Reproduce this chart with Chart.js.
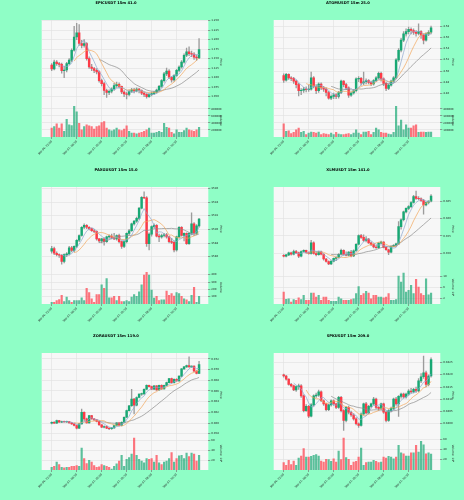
<!DOCTYPE html>
<html>
<head>
<meta charset="utf-8">
<script src="https://cdn.jsdelivr.net/npm/chart.js@4.4.1/dist/chart.umd.min.js"></script>
<style>
  body { margin: 0; background: #8ffec6; width: 464px; height: 500px; overflow: hidden; position: relative; }
</style>
</head>
<body>
<script>
// x axis tick labels, one every 10 candles (15m bars)
const timeTicks = ["Sep 06, 22:00", "Sep 07, 00:30", "Sep 07, 03:00", "Sep 07, 05:30", "Sep 07, 08:00", "Sep 07, 10:30"];

// EPICUSDT
const epicOpen = [1.133,1.123,1.141,1.137,1.135,1.118,1.120,1.137,1.146,1.172,1.207,1.218,1.190,1.185,1.190,1.150,1.128,1.124,1.119,1.115,1.092,1.084,1.066,1.061,1.064,1.070,1.079,1.082,1.077,1.062,1.057,1.056,1.064,1.068,1.065,1.070,1.066,1.059,1.056,1.050,1.055,1.058,1.061,1.067,1.077,1.092,1.110,1.117,1.101,1.094,1.106,1.119,1.128,1.141,1.159,1.168,1.163,1.162,1.154,1.152];
const epicHigh = [1.137,1.146,1.145,1.140,1.138,1.130,1.140,1.150,1.176,1.235,1.243,1.240,1.198,1.200,1.192,1.155,1.135,1.127,1.124,1.118,1.096,1.088,1.070,1.068,1.073,1.085,1.088,1.086,1.078,1.066,1.062,1.068,1.072,1.072,1.073,1.072,1.068,1.062,1.058,1.058,1.062,1.064,1.070,1.080,1.095,1.114,1.125,1.121,1.103,1.108,1.122,1.131,1.145,1.163,1.178,1.181,1.170,1.166,1.160,1.203];
const epicLow = [1.118,1.120,1.132,1.128,1.112,1.100,1.115,1.134,1.142,1.170,1.200,1.185,1.178,1.180,1.146,1.124,1.118,1.113,1.110,1.088,1.078,1.055,1.048,1.055,1.060,1.066,1.074,1.072,1.058,1.050,1.044,1.052,1.061,1.060,1.062,1.060,1.055,1.050,1.046,1.048,1.052,1.055,1.059,1.064,1.074,1.088,1.105,1.097,1.088,1.090,1.103,1.115,1.125,1.138,1.155,1.158,1.155,1.148,1.145,1.150];
const epicClose = [1.123,1.141,1.137,1.135,1.118,1.120,1.137,1.146,1.172,1.207,1.218,1.190,1.185,1.190,1.150,1.128,1.124,1.119,1.115,1.092,1.084,1.066,1.061,1.064,1.070,1.079,1.082,1.077,1.062,1.057,1.056,1.064,1.068,1.065,1.070,1.066,1.059,1.056,1.050,1.055,1.058,1.061,1.067,1.077,1.092,1.110,1.117,1.101,1.094,1.106,1.119,1.128,1.141,1.159,1.168,1.163,1.162,1.154,1.152,1.174];
const epicVolume = [251000,298000,372000,251000,372000,158000,502000,344000,326000,874000,716000,391000,205000,298000,344000,316000,298000,223000,298000,316000,409000,437000,251000,205000,177000,205000,251000,205000,186000,223000,316000,158000,112000,112000,93000,112000,130000,158000,205000,251000,112000,112000,130000,158000,130000,391000,279000,251000,130000,93000,205000,130000,130000,186000,251000,205000,186000,158000,205000,279000];
const epicPriceTicks = [1.050,1.075,1.100,1.125,1.150,1.175,1.200,1.225,1.250];
const epicVolumeTicks = [200000,400000,600000,800000];

// ATOMUSDT
const atomOpen = [4.492,4.484,4.494,4.488,4.487,4.482,4.476,4.465,4.466,4.468,4.467,4.468,4.488,4.473,4.465,4.477,4.470,4.468,4.462,4.452,4.455,4.458,4.455,4.462,4.482,4.476,4.470,4.457,4.461,4.465,4.486,4.487,4.479,4.481,4.483,4.480,4.477,4.483,4.488,4.496,4.486,4.478,4.469,4.475,4.482,4.488,4.520,4.537,4.555,4.566,4.570,4.574,4.572,4.569,4.567,4.570,4.564,4.555,4.566,4.569];
const atomHigh = [4.495,4.496,4.495,4.490,4.489,4.484,4.478,4.469,4.471,4.472,4.475,4.498,4.490,4.476,4.479,4.479,4.473,4.470,4.464,4.458,4.461,4.460,4.464,4.484,4.483,4.478,4.472,4.463,4.467,4.488,4.490,4.489,4.498,4.486,4.485,4.482,4.485,4.490,4.498,4.498,4.488,4.480,4.477,4.484,4.490,4.522,4.540,4.558,4.570,4.575,4.578,4.577,4.575,4.572,4.584,4.572,4.566,4.568,4.572,4.580];
const atomLow = [4.480,4.482,4.485,4.483,4.478,4.470,4.456,4.458,4.462,4.463,4.464,4.466,4.470,4.460,4.462,4.467,4.464,4.456,4.450,4.449,4.451,4.451,4.452,4.460,4.472,4.467,4.453,4.455,4.459,4.463,4.481,4.475,4.476,4.477,4.477,4.474,4.475,4.481,4.486,4.482,4.474,4.465,4.467,4.473,4.480,4.486,4.517,4.534,4.552,4.562,4.566,4.566,4.565,4.562,4.564,4.558,4.548,4.553,4.563,4.566];
const atomClose = [4.484,4.494,4.488,4.487,4.482,4.476,4.465,4.466,4.468,4.467,4.468,4.488,4.473,4.465,4.477,4.470,4.468,4.462,4.452,4.455,4.458,4.455,4.462,4.482,4.476,4.470,4.457,4.461,4.465,4.486,4.487,4.479,4.481,4.483,4.480,4.477,4.483,4.488,4.496,4.486,4.478,4.469,4.475,4.482,4.488,4.520,4.537,4.555,4.566,4.570,4.574,4.572,4.569,4.567,4.570,4.564,4.555,4.566,4.569,4.577];
const atomVolume = [186000,79000,88000,47000,65000,102000,126000,65000,79000,33000,56000,70000,65000,56000,70000,33000,47000,42000,33000,56000,33000,65000,42000,33000,33000,42000,47000,33000,56000,102000,56000,33000,70000,70000,79000,33000,65000,126000,102000,65000,56000,56000,42000,33000,65000,437000,158000,242000,102000,172000,126000,126000,158000,172000,65000,70000,70000,65000,70000,70000];
const atomPriceTicks = [4.46,4.48,4.50,4.52,4.54,4.56,4.58];
const atomVolumeTicks = [100000,200000,300000,400000];

// PAXGUSDT
const paxgOpen = [3586.8,3587.2,3586.5,3586.3,3586.2,3585.3,3586.3,3586.4,3587.3,3586.9,3587.5,3588.4,3589.1,3590.3,3590.6,3590.3,3590.1,3589.8,3589.7,3588.6,3588.3,3588.6,3588.2,3588.9,3589.0,3588.8,3588.6,3589.1,3588.2,3587.5,3588.2,3589.4,3589.8,3590.8,3591.2,3591.6,3593.1,3594.7,3594.6,3587.9,3589.3,3590.4,3590.6,3589.0,3588.9,3589.1,3589.2,3588.9,3588.2,3588.1,3587.0,3588.9,3590.3,3589.1,3589.4,3587.9,3589.4,3590.8,3589.4,3590.5];
const paxgHigh = [3587.5,3587.4,3586.7,3586.4,3586.3,3586.4,3586.6,3587.5,3587.5,3587.6,3588.5,3589.2,3590.4,3590.8,3590.7,3590.4,3590.2,3590.0,3589.8,3588.7,3588.7,3588.8,3589.0,3589.2,3589.3,3589.4,3589.2,3589.3,3588.3,3588.3,3589.5,3590.0,3590.9,3591.3,3591.8,3593.2,3594.8,3595.5,3594.8,3589.5,3590.5,3590.8,3590.7,3589.3,3589.3,3589.4,3589.4,3589.0,3588.7,3588.3,3589.0,3590.4,3590.4,3589.5,3589.5,3589.5,3592.4,3591.0,3590.7,3591.6];
const paxgLow = [3586.5,3586.3,3586.1,3585.9,3584.9,3585.1,3586.0,3586.2,3586.7,3586.7,3587.3,3588.2,3589.0,3590.1,3590.1,3589.9,3589.7,3589.5,3588.4,3588.1,3588.0,3587.7,3588.1,3588.7,3588.6,3588.5,3588.4,3588.0,3587.2,3587.3,3588.0,3589.2,3589.7,3590.6,3591.0,3591.4,3593.0,3594.5,3587.5,3587.0,3589.0,3590.2,3588.9,3588.2,3588.7,3588.9,3588.7,3588.0,3587.9,3586.7,3586.8,3588.7,3589.0,3588.3,3587.8,3587.8,3589.2,3589.2,3589.2,3590.3];
const paxgClose = [3587.2,3586.5,3586.3,3586.2,3585.3,3586.3,3586.4,3587.3,3586.9,3587.5,3588.4,3589.1,3590.3,3590.6,3590.3,3590.1,3589.8,3589.7,3588.6,3588.3,3588.6,3588.2,3588.9,3589.0,3588.8,3588.6,3589.1,3588.2,3587.5,3588.2,3589.4,3589.8,3590.8,3591.2,3591.6,3593.1,3594.7,3594.6,3587.9,3589.3,3590.4,3590.6,3589.0,3588.9,3589.1,3589.2,3588.9,3588.2,3588.1,3587.0,3588.9,3590.3,3589.1,3589.4,3587.9,3589.4,3590.8,3589.4,3590.5,3591.5];
const paxgVolume = [24,24,48,62,119,33,95,48,24,48,48,48,86,48,214,157,71,24,129,129,262,214,348,86,86,105,48,105,33,33,48,33,95,129,105,167,262,395,433,395,190,81,105,48,57,57,176,119,143,110,157,143,105,71,57,33,119,229,24,105];
const paxgPriceTicks = [3586,3588,3590,3592,3594,3596];
const paxgVolumeTicks = [100,200,300,400];

// XLMUSDT
const xlmOpen = [0.3494,0.3491,0.3495,0.3501,0.3497,0.3505,0.3501,0.3491,0.3505,0.3508,0.3502,0.3499,0.3530,0.3499,0.3496,0.3504,0.3497,0.3483,0.3476,0.3469,0.3477,0.3485,0.3488,0.3497,0.3508,0.3497,0.3494,0.3503,0.3492,0.3507,0.3526,0.3551,0.3546,0.3537,0.3541,0.3530,0.3525,0.3518,0.3516,0.3529,0.3532,0.3517,0.3510,0.3503,0.3520,0.3523,0.3527,0.3577,0.3597,0.3620,0.3630,0.3635,0.3647,0.3664,0.3659,0.3658,0.3653,0.3640,0.3647,0.3651];
const xlmHigh = [0.3496,0.3497,0.3503,0.3503,0.3509,0.3508,0.3503,0.3507,0.3510,0.3509,0.3504,0.3537,0.3533,0.3505,0.3506,0.3506,0.3499,0.3485,0.3478,0.3478,0.3486,0.3490,0.3499,0.3512,0.3510,0.3504,0.3505,0.3508,0.3510,0.3528,0.3553,0.3555,0.3553,0.3548,0.3543,0.3533,0.3527,0.3523,0.3531,0.3535,0.3534,0.3519,0.3512,0.3522,0.3525,0.3529,0.3592,0.3600,0.3622,0.3632,0.3638,0.3650,0.3668,0.3680,0.3664,0.3661,0.3656,0.3649,0.3652,0.3670];
const xlmLow = [0.3489,0.3489,0.3493,0.3494,0.3495,0.3499,0.3487,0.3489,0.3503,0.3500,0.3497,0.3497,0.3497,0.3492,0.3494,0.3495,0.3480,0.3474,0.3467,0.3467,0.3475,0.3478,0.3486,0.3495,0.3494,0.3492,0.3492,0.3489,0.3490,0.3505,0.3524,0.3543,0.3534,0.3533,0.3528,0.3522,0.3515,0.3514,0.3514,0.3527,0.3515,0.3508,0.3496,0.3501,0.3518,0.3519,0.3525,0.3570,0.3594,0.3617,0.3626,0.3632,0.3645,0.3656,0.3655,0.3650,0.3613,0.3637,0.3643,0.3649];
const xlmClose = [0.3491,0.3495,0.3501,0.3497,0.3505,0.3501,0.3491,0.3505,0.3508,0.3502,0.3499,0.3530,0.3499,0.3496,0.3504,0.3497,0.3483,0.3476,0.3469,0.3477,0.3485,0.3488,0.3497,0.3508,0.3497,0.3494,0.3503,0.3492,0.3507,0.3526,0.3551,0.3546,0.3537,0.3541,0.3530,0.3525,0.3518,0.3516,0.3529,0.3532,0.3517,0.3510,0.3503,0.3520,0.3523,0.3527,0.3577,0.3597,0.3620,0.3630,0.3635,0.3647,0.3664,0.3659,0.3658,0.3653,0.3640,0.3647,0.3651,0.3666];
const xlmVolume = [4400000,1700000,1900000,700000,1600000,1300000,2300000,1600000,3200000,1300000,1300000,4000000,4000000,2500000,3200000,1300000,2500000,2500000,1300000,1000000,1000000,1000000,2500000,1900000,1300000,1300000,1300000,1600000,1900000,3800000,6400000,3200000,3800000,4600000,4000000,1900000,3200000,3200000,2500000,2500000,2300000,2500000,3800000,1300000,1300000,1600000,10200000,8000000,11300000,4400000,5000000,6800000,3800000,9000000,6200000,3800000,3200000,9200000,3400000,4000000];
const xlmPriceTicks = [0.350,0.355,0.360,0.365];
const xlmVolumeTicks = [2000000,4000000,6000000,8000000,10000000,12000000];

// ZORAUSDT
const zoraOpen = [0.05997,0.06015,0.05997,0.06046,0.06015,0.06028,0.06022,0.06028,0.06003,0.05985,0.05954,0.05904,0.05985,0.06200,0.06077,0.06003,0.06139,0.06077,0.06058,0.06028,0.05966,0.05923,0.05935,0.05904,0.05892,0.05910,0.05954,0.06003,0.05954,0.06015,0.06108,0.06231,0.06324,0.06447,0.06336,0.06478,0.06540,0.06546,0.06632,0.06706,0.06682,0.06632,0.06694,0.06620,0.06706,0.06640,0.06706,0.06756,0.06830,0.06756,0.06817,0.06787,0.06879,0.07015,0.07052,0.07077,0.07052,0.07064,0.06972,0.06929];
const zoraHigh = [0.06020,0.06025,0.06055,0.06050,0.06035,0.06035,0.06035,0.06032,0.06010,0.05990,0.05960,0.05995,0.06262,0.06210,0.06090,0.06145,0.06145,0.06085,0.06065,0.06035,0.05972,0.05945,0.05945,0.05910,0.05915,0.05960,0.06010,0.06010,0.06020,0.06115,0.06240,0.06330,0.06632,0.06460,0.06490,0.06545,0.06560,0.06640,0.06715,0.06712,0.06690,0.06700,0.06700,0.06712,0.06715,0.06712,0.06765,0.06835,0.06840,0.06825,0.06830,0.06885,0.07020,0.07060,0.07085,0.07237,0.07070,0.07070,0.06980,0.07157];
const zoraLow = [0.05985,0.05990,0.05990,0.06010,0.06005,0.06015,0.06010,0.05995,0.05975,0.05945,0.05890,0.05895,0.05980,0.06040,0.05995,0.05995,0.06070,0.06050,0.06020,0.05960,0.05915,0.05910,0.05895,0.05875,0.05880,0.05900,0.05945,0.05945,0.05945,0.06010,0.06100,0.06220,0.06310,0.06170,0.06320,0.06470,0.06515,0.06535,0.06625,0.06670,0.06625,0.06625,0.06610,0.06612,0.06630,0.06632,0.06700,0.06750,0.06745,0.06745,0.06780,0.06780,0.06870,0.07005,0.07040,0.07045,0.07040,0.06965,0.06920,0.06925];
const zoraClose = [0.06015,0.05997,0.06046,0.06015,0.06028,0.06022,0.06028,0.06003,0.05985,0.05954,0.05904,0.05985,0.06200,0.06077,0.06003,0.06139,0.06077,0.06058,0.06028,0.05966,0.05923,0.05935,0.05904,0.05892,0.05910,0.05954,0.06003,0.05954,0.06015,0.06108,0.06231,0.06324,0.06447,0.06336,0.06478,0.06540,0.06546,0.06632,0.06706,0.06682,0.06632,0.06694,0.06620,0.06706,0.06640,0.06706,0.06756,0.06830,0.06756,0.06817,0.06787,0.06879,0.07015,0.07052,0.07077,0.07052,0.07064,0.06972,0.06929,0.07095];
const zoraVolume = [5600000,7700000,16100000,11200000,5600000,4200000,5600000,5600000,7700000,7700000,9100000,7700000,44900000,23200000,13300000,19600000,16100000,9100000,5600000,6300000,11200000,9100000,7700000,5600000,2100000,7700000,12600000,18200000,30200000,7700000,21800000,25300000,32300000,65300000,30200000,21800000,18200000,14700000,23200000,21800000,23200000,16100000,30200000,14700000,11200000,16100000,18200000,23200000,35800000,16100000,23200000,28800000,30200000,23200000,34400000,27400000,34400000,32300000,18200000,30200000];
const zoraPriceTicks = [0.058,0.060,0.062,0.064,0.066,0.068,0.070,0.072];
const zoraVolumeTicks = [20000000,40000000,60000000];

// SPKUSDT
const spkOpen = [0.04200,0.04195,0.04182,0.04161,0.04155,0.04138,0.04152,0.04155,0.04114,0.04054,0.04071,0.04031,0.04077,0.04114,0.04117,0.04130,0.04094,0.04081,0.04058,0.04077,0.04094,0.04081,0.04067,0.04108,0.04054,0.04014,0.04067,0.04047,0.04036,0.04020,0.04000,0.03993,0.04040,0.04081,0.04044,0.04071,0.04081,0.04101,0.04067,0.04063,0.04081,0.04047,0.04014,0.04054,0.04063,0.04101,0.04081,0.04112,0.04121,0.04110,0.04121,0.04134,0.04130,0.04141,0.04134,0.04175,0.04192,0.04208,0.04161,0.04195];
const spkHigh = [0.04203,0.04198,0.04184,0.04165,0.04158,0.04155,0.04162,0.04160,0.04118,0.04078,0.04075,0.04082,0.04118,0.04125,0.04138,0.04135,0.04098,0.04085,0.04080,0.04098,0.04098,0.04085,0.04112,0.04112,0.04058,0.04070,0.04072,0.04052,0.04042,0.04025,0.04004,0.04045,0.04085,0.04088,0.04075,0.04085,0.04108,0.04105,0.04070,0.04085,0.04085,0.04050,0.04058,0.04068,0.04105,0.04108,0.04115,0.04125,0.04125,0.04125,0.04140,0.04145,0.04145,0.04150,0.04185,0.04205,0.04276,0.04215,0.04200,0.04269];
const spkLow = [0.04190,0.04178,0.04158,0.04150,0.04135,0.04132,0.04140,0.04108,0.04048,0.04050,0.04025,0.04028,0.04072,0.04108,0.04112,0.04090,0.04075,0.04052,0.04054,0.04072,0.04075,0.04062,0.04063,0.04048,0.03973,0.04008,0.04040,0.04030,0.04015,0.03995,0.03985,0.03990,0.04035,0.04040,0.04040,0.04065,0.04076,0.04062,0.04055,0.04058,0.04042,0.04008,0.04010,0.04048,0.04058,0.04075,0.04030,0.04105,0.04105,0.04105,0.04116,0.04125,0.04126,0.04128,0.04130,0.04168,0.04185,0.04150,0.04155,0.04190];
const spkClose = [0.04195,0.04182,0.04161,0.04155,0.04138,0.04152,0.04155,0.04114,0.04054,0.04071,0.04031,0.04077,0.04114,0.04117,0.04130,0.04094,0.04081,0.04058,0.04077,0.04094,0.04081,0.04067,0.04108,0.04054,0.04014,0.04067,0.04047,0.04036,0.04020,0.04000,0.03993,0.04040,0.04081,0.04044,0.04071,0.04081,0.04101,0.04067,0.04063,0.04081,0.04047,0.04014,0.04054,0.04063,0.04101,0.04081,0.04112,0.04121,0.04110,0.04121,0.04134,0.04130,0.04141,0.04134,0.04175,0.04192,0.04208,0.04161,0.04195,0.04262];
const spkVolume = [14200000,9000000,18700000,10300000,17400000,9000000,23200000,27100000,41300000,25200000,25200000,26500000,28400000,29700000,27100000,17400000,15500000,20600000,20000000,16800000,21900000,15500000,36800000,20000000,61900000,23900000,20600000,9000000,15500000,16800000,25200000,42600000,9000000,14200000,15500000,15500000,18700000,16800000,14200000,15500000,25200000,23200000,26500000,25200000,21900000,25200000,47700000,33500000,31600000,27100000,27100000,33500000,33500000,47700000,34800000,55500000,49000000,31600000,33500000,31000000];
const spkPriceTicks = [0.0400,0.0405,0.0410,0.0415,0.0420,0.0425];
const spkVolumeTicks = [20000000,40000000,60000000];

const upColor = '#18a874';
const downColor = '#fd3a47';
const upVolColor = 'rgba(24,168,116,0.7)';
const downVolColor = 'rgba(253,58,71,0.7)';
const wickColor = '#9c9c9c';
const maWindows = [5, 10, 20];
const maColors = ['#8ea8cf', '#f2a65a', '#8b8b8b'];
const family = 'DejaVu Sans';
const tickFont = { family: family, size: 2.7 };

// simple moving average of the closes, like mplfinance mav
function sma(values, n) {
  return values.map((v, i) => {
    if (i < n - 1) return { x: i, y: null };
    let s = 0;
    for (let k = i - n + 1; k <= i; k++) s += values[k];
    return { x: i, y: s / n };
  });
}

const plotBackground = {
  id: 'plotBackground',
  beforeDraw(chart) {
    const a = chart.chartArea;
    const ctx = chart.ctx;
    ctx.save();
    ctx.fillStyle = '#f7f7f7';
    ctx.fillRect(a.left, a.top, a.right - a.left, a.bottom - a.top);
    ctx.restore();
  }
};

// figure-style title, centred on the whole panel rather than the plot area
const panelTitle = {
  id: 'panelTitle',
  afterDraw(chart, args, opts) {
    const ctx = chart.ctx;
    ctx.save();
    ctx.font = 'bold 3.7px "' + family + '"';
    ctx.fillStyle = '#000';
    ctx.textAlign = 'center';
    ctx.textBaseline = 'middle';
    ctx.fillText(opts.text, chart.width / 2, 3.4);
    ctx.restore();
  }
};

function drawPanel(left, top, p) {
  const canvas = document.createElement('canvas');
  canvas.width = 232;
  canvas.height = 165;
  canvas.style.cssText = 'position:absolute;left:' + left + 'px;top:' + top + 'px;width:232px;height:165px';
  document.body.appendChild(canvas);

  const isUp = p.close.map((c, i) => c >= p.open[i]);
  const gridStyle = { color: '#e2e2e2', lineWidth: 0.7, tickLength: 2, tickColor: '#777', offset: false };

  const datasets = [
    {
      type: 'bar', label: 'wick', order: 4, grouped: false, yAxisID: 'y',
      data: p.low.map((lo, i) => ({ x: i, y: [lo, p.high[i]] })),
      backgroundColor: wickColor, barThickness: 0.7
    },
    {
      type: 'bar', label: 'body', order: 3, grouped: false, yAxisID: 'y',
      data: p.open.map((o, i) => ({ x: i, y: [o, p.close[i]] })),
      backgroundColor: isUp.map(u => u ? upColor : downColor), barThickness: 1.8, minBarLength: 0.5
    },
    {
      type: 'bar', label: 'volume', order: 5, grouped: false, yAxisID: 'yv',
      data: p.volume.map((v, i) => ({ x: i, y: v })),
      backgroundColor: isUp.map(u => u ? upVolColor : downVolColor), barThickness: 1.5
    }
  ];
  maWindows.forEach((n, k) => {
    datasets.push({
      type: 'line', label: 'mav' + n, order: 1, yAxisID: 'y',
      data: sma(p.close, n), borderColor: maColors[k], borderWidth: 0.7,
      pointRadius: 0, tension: 0, spanGaps: false
    });
  });

  new Chart(canvas, {
    type: 'bar',
    data: { datasets: datasets },
    plugins: [plotBackground, panelTitle],
    options: {
      responsive: false,
      animation: false,
      devicePixelRatio: 1,
      layout: { padding: { left: 41.7, right: 10, top: 20, bottom: 0 } },
      plugins: {
        legend: { display: false },
        tooltip: { enabled: false },
        title: { display: false },
        panelTitle: { text: p.title }
      },
      scales: {
        x: {
          type: 'linear', min: -4, max: 62.7, offset: false,
          grid: gridStyle, border: { display: false },
          afterBuildTicks: s => { s.ticks = timeTicks.map((t, k) => ({ value: k * 10 })); },
          ticks: {
            autoSkip: false, maxRotation: 45, minRotation: 45, padding: 1,
            font: tickFont, color: '#222',
            callback: (v, i) => timeTicks[i]
          },
          afterFit: s => { s.height = 28; }
        },
        y: {
          type: 'linear', position: 'right', stack: 'panel', stackWeight: 84,
          min: p.priceMin, max: p.priceMax,
          grid: gridStyle, border: { display: false },
          afterBuildTicks: s => { s.ticks = p.priceTicks.map(v => ({ value: v })); },
          ticks: { font: tickFont, color: '#222', padding: 1, callback: v => v.toFixed(p.digits) },
          title: { display: true, text: 'Price', color: '#222', font: { family: family, size: 2.9 }, padding: 0 },
          afterFit: s => { s.width = 13.7; }
        },
        yv: {
          type: 'linear', position: 'right', stack: 'panel', stackWeight: 33,
          min: 0, max: p.volMax,
          grid: gridStyle, border: { display: false },
          afterBuildTicks: s => { s.ticks = p.volTicks.map(v => ({ value: v })); },
          ticks: { font: tickFont, color: '#222', padding: 1, callback: v => String(Math.round(v / p.volDiv)) },
          title: { display: true, text: p.volLabel, color: '#222', font: { family: family, size: 2.9 }, padding: 0 },
          afterFit: s => { s.width = 13.7; }
        }
      }
    }
  });
}

drawPanel(0, 0, {
  title: 'EPICUSDT 15m 41.0', open: epicOpen, high: epicHigh, low: epicLow, close: epicClose, volume: epicVolume,
  priceMin: 1.0305, priceMax: 1.2518, priceTicks: epicPriceTicks, digits: 3,
  volMax: 940000, volTicks: epicVolumeTicks, volDiv: 1, volLabel: 'Volume'
});
drawPanel(232, 0, {
  title: 'ATOMUSDT 15m 25.0', open: atomOpen, high: atomHigh, low: atomLow, close: atomClose, volume: atomVolume,
  priceMin: 4.4415, priceMax: 4.5907, priceTicks: atomPriceTicks, digits: 2,
  volMax: 470000, volTicks: atomVolumeTicks, volDiv: 1, volLabel: 'Volume'
});
drawPanel(0, 167, {
  title: 'PAXGUSDT 15m 15.0', open: paxgOpen, high: paxgHigh, low: paxgLow, close: paxgClose, volume: paxgVolume,
  priceMin: 3583.9, priceMax: 3596.2, priceTicks: paxgPriceTicks, digits: 0,
  volMax: 452, volTicks: paxgVolumeTicks, volDiv: 1, volLabel: 'Volume'
});
drawPanel(232, 167, {
  title: 'XLMUSDT 15m 141.0', open: xlmOpen, high: xlmHigh, low: xlmLow, close: xlmClose, volume: xlmVolume,
  priceMin: 0.34483, priceMax: 0.36921, priceTicks: xlmPriceTicks, digits: 3,
  volMax: 12100000, volTicks: xlmVolumeTicks, volDiv: 1000000, volLabel: 'Volume  10\u2076'
});
drawPanel(0, 333, {
  title: 'ZORAUSDT 15m 119.0', open: zoraOpen, high: zoraHigh, low: zoraLow, close: zoraClose, volume: zoraVolume,
  priceMin: 0.05738, priceMax: 0.07311, priceTicks: zoraPriceTicks, digits: 3,
  volMax: 67400000, volTicks: zoraVolumeTicks, volDiv: 1000000, volLabel: 'Volume  10\u2076'
});
drawPanel(232, 333, {
  title: 'SPKUSDT 15m 209.0', open: spkOpen, high: spkHigh, low: spkLow, close: spkClose, volume: spkVolume,
  priceMin: 0.03946, priceMax: 0.04289, priceTicks: spkPriceTicks, digits: 4,
  volMax: 64000000, volTicks: spkVolumeTicks, volDiv: 1000000, volLabel: 'Volume  10\u2076'
});
</script>
</body>
</html>
